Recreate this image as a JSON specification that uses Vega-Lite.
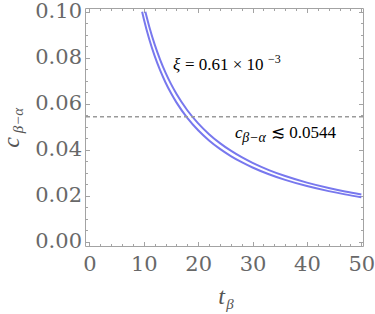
{
  "$schema": "https://vega.github.io/schema/vega-lite/v6.json",
  "width": 278,
  "height": 238,
  "autosize": {"type": "none"},
  "padding": {"left": 85, "top": 8, "right": 12, "bottom": 68},
  "background": "white",
  "config": {
    "view": {"stroke": "#a3a3a3", "strokeWidth": 1},
    "axis": {
      "domain": false, "grid": false, "tickColor": "#a3a3a3", "tickWidth": 1,
      "labelFont": "DejaVu Serif", "labelFontSize": 21, "labelColor": "#686868",
      "labelFlush": false, "labelOverlap": false,
      "titleFont": "Liberation Serif", "titleColor": "#555555",
      "titleFontStyle": "italic", "titleFontWeight": "normal"
    },
    "text": {"font": "Liberation Serif"}
  },
  "datasets": {
    "curves": [
      {"series": "upper", "t": 10.3, "c": 0.1},
      {"series": "upper", "t": 11, "c": 0.09364},
      {"series": "upper", "t": 12, "c": 0.08583},
      {"series": "upper", "t": 13, "c": 0.07923},
      {"series": "upper", "t": 14, "c": 0.07357},
      {"series": "upper", "t": 15, "c": 0.06867},
      {"series": "upper", "t": 16, "c": 0.06438},
      {"series": "upper", "t": 18, "c": 0.05722},
      {"series": "upper", "t": 20, "c": 0.0515},
      {"series": "upper", "t": 22, "c": 0.04682},
      {"series": "upper", "t": 24, "c": 0.04292},
      {"series": "upper", "t": 26, "c": 0.03962},
      {"series": "upper", "t": 28, "c": 0.03679},
      {"series": "upper", "t": 30, "c": 0.03433},
      {"series": "upper", "t": 33, "c": 0.03121},
      {"series": "upper", "t": 36, "c": 0.02861},
      {"series": "upper", "t": 40, "c": 0.02575},
      {"series": "upper", "t": 44, "c": 0.02341},
      {"series": "upper", "t": 47, "c": 0.02191},
      {"series": "upper", "t": 50, "c": 0.0206},
      {"series": "lower", "t": 9.7, "c": 0.1},
      {"series": "lower", "t": 10, "c": 0.097},
      {"series": "lower", "t": 11, "c": 0.08818},
      {"series": "lower", "t": 12, "c": 0.08083},
      {"series": "lower", "t": 13, "c": 0.07462},
      {"series": "lower", "t": 14, "c": 0.06929},
      {"series": "lower", "t": 15, "c": 0.06467},
      {"series": "lower", "t": 16, "c": 0.06063},
      {"series": "lower", "t": 18, "c": 0.05389},
      {"series": "lower", "t": 20, "c": 0.0485},
      {"series": "lower", "t": 22, "c": 0.04409},
      {"series": "lower", "t": 24, "c": 0.04042},
      {"series": "lower", "t": 26, "c": 0.03731},
      {"series": "lower", "t": 28, "c": 0.03464},
      {"series": "lower", "t": 30, "c": 0.03233},
      {"series": "lower", "t": 33, "c": 0.02939},
      {"series": "lower", "t": 36, "c": 0.02694},
      {"series": "lower", "t": 40, "c": 0.02425},
      {"series": "lower", "t": 44, "c": 0.02205},
      {"series": "lower", "t": 47, "c": 0.02064},
      {"series": "lower", "t": 50, "c": 0.0194}
    ],
    "limit": [{"c": 0.0544}],
    "notesItalic": [
      {"t": 15.37, "c": 0.0749, "label": "ξ"},
      {"t": 26.76, "c": 0.04535, "label": "c"}
    ],
    "notesPlain": [
      {"t": 17.57, "c": 0.0749, "label": "= 0.61 × 10"},
      {"t": 33.4, "c": 0.04535, "label": "≲ 0.0544"}
    ],
    "notesSub": [
      {"t": 28.09, "c": 0.0436, "label": "β−α"}
    ],
    "notesSup": [
      {"t": 32.83, "c": 0.0777, "label": "−3"}
    ]
  },
  "layer": [
    {
      "data": {"name": "curves"},
      "mark": {"type": "line", "color": "#7878ee", "strokeWidth": 2, "interpolate": "monotone", "clip": true},
      "encoding": {
        "x": {"field": "t", "type": "quantitative", "scale": {"domain": [-0.8, 50.3], "nice": false, "zero": false},
          "axis": {"orient": "bottom", "values": [0, 10, 20, 30, 40, 50], "format": "d", "tickSize": -4.5, "labelPadding": 12,
            "title": "t", "titleFontSize": 24, "titleAlign": "center", "titleBaseline": "alphabetic", "titleX": 136, "titleY": 57, "titleAngle": 0}},
        "y": {"field": "c", "type": "quantitative", "scale": {"domain": [-0.0018, 0.10165], "nice": false, "zero": false},
          "axis": {"orient": "left", "values": [0, 0.02, 0.04, 0.06, 0.08, 0.1], "format": ".2f", "tickSize": -4.5, "labelPadding": 8,
            "title": "c", "titleFontSize": 24, "titleAlign": "center", "titleBaseline": "alphabetic", "titleAngle": -90, "titleX": -67, "titleY": 134}},
        "detail": {"field": "series", "type": "nominal"}
      }
    },
    {
      "data": {"name": "curves"},
      "mark": {"type": "point", "opacity": 0},
      "encoding": {
        "x": {"field": "t", "type": "quantitative", "scale": {"domain": [-0.8, 50.3], "nice": false, "zero": false},
          "axis": {"orient": "bottom", "values": [2, 4, 6, 8, 12, 14, 16, 18, 22, 24, 26, 28, 32, 34, 36, 38, 42, 44, 46, 48], "labels": false, "tickSize": -2.5,
            "title": "β", "titleFontSize": 15, "titleAlign": "center", "titleBaseline": "alphabetic", "titleX": 144.5, "titleY": 62, "titleAngle": 0}},
        "y": {"field": "c", "type": "quantitative", "scale": {"domain": [-0.0018, 0.10165], "nice": false, "zero": false},
          "axis": {"orient": "left", "values": [0.005, 0.01, 0.015, 0.025, 0.03, 0.035, 0.045, 0.05, 0.055, 0.065, 0.07, 0.075, 0.085, 0.09, 0.095], "labels": false, "tickSize": -2.5,
            "title": "β−α", "titleFontSize": 15, "titleAlign": "center", "titleBaseline": "alphabetic", "titleAngle": -90, "titleX": -62.5, "titleY": 112}}
      }
    },
    {
      "data": {"name": "curves"},
      "mark": {"type": "point", "opacity": 0},
      "encoding": {
        "x": {"field": "t", "type": "quantitative", "scale": {"domain": [-0.8, 50.3], "nice": false, "zero": false},
          "axis": {"orient": "top", "values": [0, 10, 20, 30, 40, 50], "labels": false, "tickSize": -4.5, "title": null}},
        "y": {"field": "c", "type": "quantitative", "scale": {"domain": [-0.0018, 0.10165], "nice": false, "zero": false},
          "axis": {"orient": "right", "values": [0, 0.02, 0.04, 0.06, 0.08, 0.1], "labels": false, "tickSize": -4.5, "title": null}}
      }
    },
    {
      "data": {"name": "curves"},
      "mark": {"type": "point", "opacity": 0},
      "encoding": {
        "x": {"field": "t", "type": "quantitative", "scale": {"domain": [-0.8, 50.3], "nice": false, "zero": false},
          "axis": {"orient": "top", "values": [2, 4, 6, 8, 12, 14, 16, 18, 22, 24, 26, 28, 32, 34, 36, 38, 42, 44, 46, 48], "labels": false, "tickSize": -2.5, "title": null}},
        "y": {"field": "c", "type": "quantitative", "scale": {"domain": [-0.0018, 0.10165], "nice": false, "zero": false},
          "axis": {"orient": "right", "values": [0.005, 0.01, 0.015, 0.025, 0.03, 0.035, 0.045, 0.05, 0.055, 0.065, 0.07, 0.075, 0.085, 0.09, 0.095], "labels": false, "tickSize": -2.5, "title": null}}
      }
    },
    {
      "data": {"name": "limit"},
      "mark": {"type": "rule", "color": "#9a9a9a", "strokeWidth": 1.5, "strokeDash": [4, 3]},
      "encoding": {
        "y": {"field": "c", "type": "quantitative", "axis": null, "scale": {"domain": [-0.0018, 0.10165], "nice": false, "zero": false}}
      }
    },
    {
      "data": {"name": "notesItalic"},
      "mark": {"type": "text", "fontSize": 17, "fontStyle": "italic", "color": "#000000", "align": "left", "baseline": "alphabetic"},
      "encoding": {
        "x": {"field": "t", "type": "quantitative", "axis": null, "scale": {"domain": [-0.8, 50.3], "nice": false, "zero": false}},
        "y": {"field": "c", "type": "quantitative", "axis": null, "scale": {"domain": [-0.0018, 0.10165], "nice": false, "zero": false}},
        "text": {"field": "label"}
      }
    },
    {
      "data": {"name": "notesPlain"},
      "mark": {"type": "text", "fontSize": 17, "color": "#000000", "align": "left", "baseline": "alphabetic"},
      "encoding": {
        "x": {"field": "t", "type": "quantitative", "axis": null, "scale": {"domain": [-0.8, 50.3], "nice": false, "zero": false}},
        "y": {"field": "c", "type": "quantitative", "axis": null, "scale": {"domain": [-0.0018, 0.10165], "nice": false, "zero": false}},
        "text": {"field": "label"}
      }
    },
    {
      "data": {"name": "notesSub"},
      "mark": {"type": "text", "fontSize": 14, "fontStyle": "italic", "color": "#000000", "align": "left", "baseline": "alphabetic"},
      "encoding": {
        "x": {"field": "t", "type": "quantitative", "axis": null, "scale": {"domain": [-0.8, 50.3], "nice": false, "zero": false}},
        "y": {"field": "c", "type": "quantitative", "axis": null, "scale": {"domain": [-0.0018, 0.10165], "nice": false, "zero": false}},
        "text": {"field": "label"}
      }
    },
    {
      "data": {"name": "notesSup"},
      "mark": {"type": "text", "fontSize": 12, "color": "#000000", "align": "left", "baseline": "alphabetic"},
      "encoding": {
        "x": {"field": "t", "type": "quantitative", "axis": null, "scale": {"domain": [-0.8, 50.3], "nice": false, "zero": false}},
        "y": {"field": "c", "type": "quantitative", "axis": null, "scale": {"domain": [-0.0018, 0.10165], "nice": false, "zero": false}},
        "text": {"field": "label"}
      }
    }
  ],
  "resolve": {"axis": {"x": "independent", "y": "independent"}}
}
